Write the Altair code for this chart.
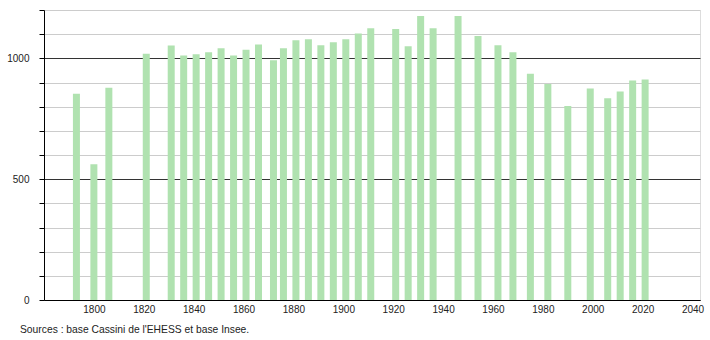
import altair as alt
import pandas as pd

years = [1793, 1800, 1806, 1821, 1831, 1836, 1841, 1846, 1851, 1856, 1861, 1866,
         1872, 1876, 1881, 1886, 1891, 1896, 1901, 1906, 1911, 1921, 1926, 1931,
         1936, 1946, 1954, 1962, 1968, 1975, 1982, 1990, 1999, 2006, 2011, 2016, 2021]
population = [853, 562, 878, 1019, 1053, 1012, 1017, 1025, 1042, 1012, 1036, 1057,
              992, 1042, 1075, 1079, 1054, 1067, 1079, 1103, 1125, 1121, 1050, 1175,
              1125, 1175, 1092, 1054, 1025, 936, 894, 803, 875, 835, 863, 908, 912]
x_ticks = list(range(1800, 2041, 20))
y_ticks = list(range(0, 1201, 100))
source_text = "Sources : base Cassini de l'EHESS et base Insee."

df = pd.DataFrame({"year": years, "pop": population})

font = "Liberation Sans"

bars = alt.Chart(df).mark_bar(size=7, color="#b0e2b0").encode(
    x=alt.X("year:Q",
            scale=alt.Scale(domain=[1780, 2043], nice=False, zero=False, padding=0),
            axis=alt.Axis(values=x_ticks, format="d", title=None, grid=False,
                          ticks=False, domainColor="#000", labelColor="#222",
                          labelFontSize=10, labelFont=font, labelPadding=4)),
    y=alt.Y("pop:Q",
            scale=alt.Scale(domain=[0, 1200], nice=False, padding=0),
            axis=alt.Axis(values=y_ticks, title=None,
                          labelExpr="datum.value % 500 == 0 && datum.value < 1200 ? datum.label : ''",
                          format="d",
                          grid=True,
                          gridColor=alt.condition("datum.value % 500 == 0", alt.value("#333333"), alt.value("#cccccc")),
                          gridWidth=1,
                          tickColor="#000", tickSize=5, domainColor="#000",
                          labelColor="#222", labelFontSize=10, labelFont=font,
                          labelPadding=10)),
)

note = alt.Chart(pd.DataFrame({"t": [source_text]})).mark_text(
    align="left", baseline="middle", fontSize=10.3, font=font, color="#222"
).encode(x=alt.value(-24), y=alt.value(320), text="t:N")

chart = alt.layer(bars, note).properties(
    width=656, height=290,
    autosize=alt.AutoSizeParams(type="none"),
    padding={"left": 44, "top": 10, "right": 10, "bottom": 40},
).configure_view(stroke=None).configure(background="white")

chart.save("out.html", embed_options={"renderer": "svg", "actions": False})
